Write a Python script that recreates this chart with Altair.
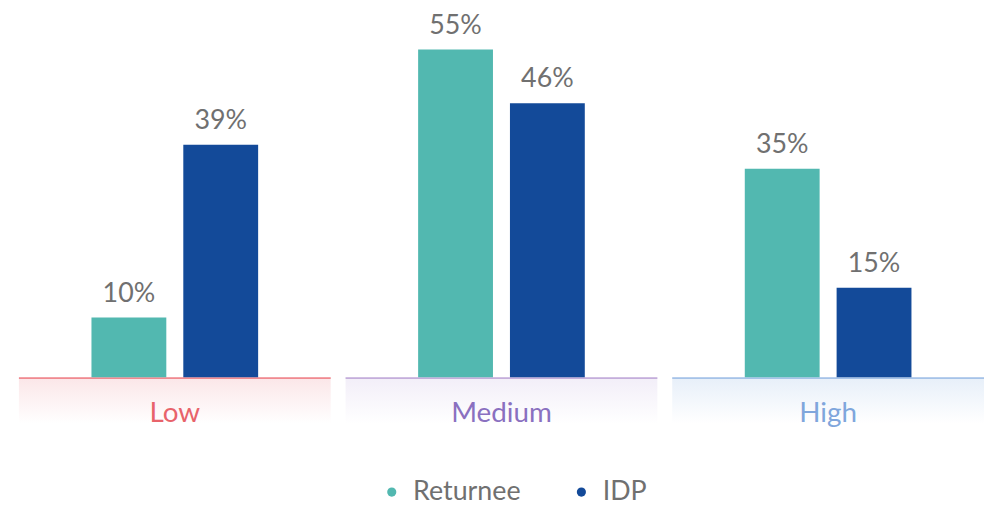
import altair as alt
import pandas as pd

groups = ["Low", "Medium", "High"]
series = ["Returnee", "IDP"]
returnee = [10, 55, 35]
idp = [39, 46, 15]

series_colors = ["#52b8b0", "#134a99"]
group_label_colors = ["#e8636b", "#8a70c0", "#7fa6dc"]
group_line_colors = ["#f08a90", "#c4aedb", "#a6c3e8"]
group_tints = ["#fbe6e8", "#f2eef8", "#e7eff9"]

rows = []
for g, r, i in zip(groups, returnee, idp):
    rows.append({"group": g, "series": "Returnee", "value": r})
    rows.append({"group": g, "series": "IDP", "value": i})
df = pd.DataFrame(rows)
df["label"] = df["value"].astype(str) + "%"
cat_df = pd.DataFrame({"group": groups})

FONT = "Lato"
TEXT_GRAY = "#707070"
BAND_LOW = -7.83
Y_TOP = 61.67

x_scale = alt.Scale(domain=groups, paddingInner=0.0456, paddingOuter=0)
xo_scale = alt.Scale(domain=series, paddingInner=0.185, paddingOuter=0.79)
y_scale = alt.Scale(domain=[BAND_LOW, Y_TOP], nice=False, zero=False)

layers = []
for g, lc, linec, tint in zip(groups, group_label_colors, group_line_colors, group_tints):
    base = alt.Chart(cat_df).transform_filter(alt.datum.group == g)
    band = base.mark_rect(
        fill=alt.Gradient(
            gradient="linear",
            stops=[alt.GradientStop(color=tint, offset=0),
                   alt.GradientStop(color="#ffffff", offset=1)],
            x1=0, x2=0, y1=0, y2=1,
        )
    ).encode(
        x=alt.X("group:N", scale=x_scale, axis=None, sort=groups),
        y=alt.YDatum(0, scale=y_scale, axis=None),
        y2=alt.datum(BAND_LOW),
    )
    line = base.mark_rect(fill=linec).encode(
        x=alt.X("group:N", scale=x_scale, axis=None, sort=groups),
        y=alt.YDatum(0, scale=y_scale, axis=None),
        y2=alt.datum(-0.32),
    )
    label = base.mark_text(fontSize=28, color=lc, font=FONT, baseline="middle").encode(
        x=alt.X("group:N", scale=x_scale, axis=None, sort=groups),
        y=alt.YDatum(-6.2, scale=y_scale, axis=None),
        text="group:N",
    )
    layers += [band, line, label]

bars = alt.Chart(df).mark_bar().encode(
    x=alt.X("group:N", scale=x_scale, axis=None, sort=groups),
    xOffset=alt.XOffset("series:N", scale=xo_scale, sort=series),
    y=alt.Y("value:Q", scale=y_scale, axis=None),
    color=alt.Color(
        "series:N",
        scale=alt.Scale(domain=series, range=series_colors),
        sort=series,
        legend=alt.Legend(
            orient="none", legendX=362, legendY=472, direction="horizontal",
            title=None, symbolType="circle", symbolSize=85, labelFontSize=27,
            labelColor=TEXT_GRAY, labelFont=FONT, columnPadding=47,
            labelOffset=8, symbolStrokeWidth=0,
        ),
    ),
)

texts = alt.Chart(df).mark_text(
    fontSize=27, color=TEXT_GRAY, font=FONT, baseline="alphabetic", dy=-16
).encode(
    x=alt.X("group:N", scale=x_scale, axis=None, sort=groups),
    xOffset=alt.XOffset("series:N", scale=xo_scale, sort=series),
    y=alt.Y("value:Q", scale=y_scale, axis=None),
    text="label:N",
)

chart = alt.layer(*layers, bars, texts).properties(
    width=972, height=417,
    padding={"left": 10, "top": 0, "right": 0, "bottom": 0},
).configure_view(stroke=None)

chart.save("out.html", embed_options={"renderer": "svg", "actions": False})
